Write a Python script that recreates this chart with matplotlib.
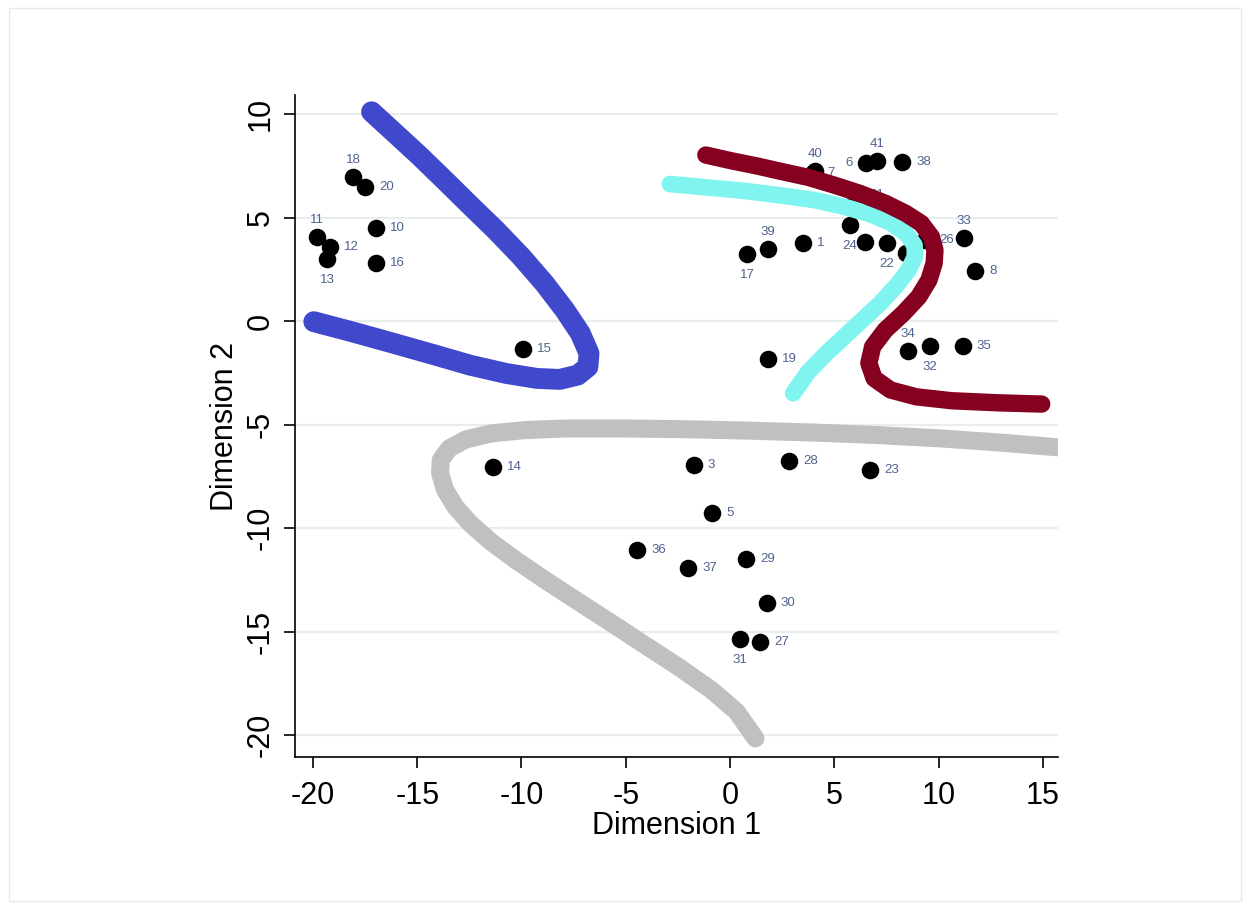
import matplotlib
matplotlib.use("Agg")
import matplotlib.pyplot as plt
from matplotlib.patches import Rectangle

plt.rcParams['font.family'] = ['Liberation Sans', 'DejaVu Sans']
plt.rcParams['axes.unicode_minus'] = False

# ---- data: MDS point coordinates ----
ids = ["18", "20", "11", "12", "13", "10", "16", "15", "14",
       "39", "17", "1", "7", "40", "6", "41", "38", "21", "24", "", "22", "",
       "26", "33", "8", "34", "32", "35", "19",
       "3", "28", "23", "5", "36", "37", "29", "30", "31", "27"]
dim1 = [-18.08, -17.50, -19.80, -19.18, -19.32, -16.97, -16.97, -9.92, -11.36,
        1.82, 0.82, 3.50, 3.98, 4.08, 6.52, 7.05, 8.25, 6.00, 5.75, 6.47, 7.53, 8.44,
        9.35, 11.22, 11.75, 8.53, 9.59, 11.17, 1.82,
        -1.73, 2.83, 6.71, -0.86, -4.46, -2.01, 0.77, 1.77, 0.48, 1.44]
dim2 = [6.96, 6.47, 4.06, 3.57, 3.00, 4.49, 2.80, -1.35, -7.05,
        3.48, 3.24, 3.77, 7.15, 7.25, 7.63, 7.73, 7.68, 6.09, 4.64, 3.82, 3.77, 3.29,
        3.91, 4.01, 2.42, -1.45, -1.21, -1.21, -1.84,
        -6.96, -6.76, -7.20, -9.28, -11.06, -11.93, -11.50, -13.62, -15.36, -15.51]

# clock position of each marker label (Stata style)
label_clock = {"18": 12, "11": 12, "13": 6, "40": 12, "41": 12, "6": 9,
               "24": 6, "22": 6, "33": 12, "39": 12, "17": 6, "34": 12,
               "32": 6, "31": 6}

# ---- curves traced on the map ----
blue_x = [-17.19, -16.15, -14.93, -13.69, -12.47, -11.24, -10.01, -8.90, -7.92, -7.18, -6.76,
          -6.81, -7.30, -8.17, -9.27, -10.74, -12.47, -14.43, -16.40, -18.12, -19.96]
blue_y = [10.11, 9.15, 8.02, 6.81, 5.60, 4.40, 3.11, 1.82, 0.53, -0.59, -1.56,
          -2.21, -2.61, -2.82, -2.77, -2.53, -2.13, -1.56, -1.00, -0.52, -0.03]

cyan_x = [-2.88, -1.16, 0.57, 2.29, 4.01, 5.48, 6.71, 7.70, 8.43, 8.85, 8.87, 8.56, 7.94,
          7.21, 6.34, 5.48, 4.62, 3.76, 3.03]
cyan_y = [6.62, 6.46, 6.30, 6.09, 5.85, 5.52, 5.17, 4.75, 4.24, 3.67, 3.11, 2.46, 1.66,
          0.86, 0.05, -0.76, -1.56, -2.45, -3.49]

maroon_x = [-1.16, 0.07, 1.30, 2.53, 3.76, 4.99, 6.22, 7.45, 8.43, 9.17, 9.66, 9.83, 9.79,
            9.54, 9.05, 8.31, 7.45, 6.84, 6.66, 6.91, 7.70, 8.93, 10.64, 12.86, 14.95]
maroon_y = [8.02, 7.74, 7.49, 7.21, 6.94, 6.57, 6.17, 5.69, 5.20, 4.72, 4.07, 3.43, 2.79,
            1.98, 1.17, 0.37, -0.43, -1.24, -2.04, -2.77, -3.33, -3.66, -3.85, -3.95, -4.01]

gray_x = [15.70, 13.10, 10.11, 7.11, 4.11, 1.12, -1.88, -4.88, -7.87, -9.87, -11.47, -12.67,
          -13.46, -13.87, -13.90, -13.66, -13.17, -12.47, -11.47, -10.27, -8.87, -7.27,
          -5.67, -4.08, -2.48, -0.88, 0.32, 1.22]
gray_y = [-6.10, -5.88, -5.67, -5.51, -5.39, -5.30, -5.23, -5.19, -5.19, -5.27, -5.43, -5.72,
          -6.15, -6.71, -7.36, -8.16, -8.97, -9.77, -10.66, -11.55, -12.51, -13.56,
          -14.60, -15.65, -16.70, -17.83, -18.87, -20.16]

xticks = [-20, -15, -10, -5, 0, 5, 10, 15]
yticks = [-20, -15, -10, -5, 0, 5, 10]

# ---- figure ----
fig = plt.figure(figsize=(12.5, 9.09), dpi=100)
fig.patch.set_facecolor("white")
fig.patches.append(Rectangle((0.007, 0.009), 0.986, 0.982, transform=fig.transFigure,
                             fill=False, edgecolor="#e9e9e9", linewidth=1.0))

ax = fig.add_axes([0.236, 0.1672, 0.6104, 0.7283])
ax.set_xlim(-20.86, 15.73)
ax.set_ylim(-21.06, 10.92)

ax.set_yticks(yticks)
ax.set_xticks(xticks)
ax.yaxis.grid(True, color="#e8eeee", linewidth=1.6)
ax.xaxis.grid(False)
ax.set_axisbelow(True)

for s in ["top", "right"]:
    ax.spines[s].set_visible(False)
for s in ["left", "bottom"]:
    ax.spines[s].set_color("black")
    ax.spines[s].set_linewidth(1.2)

ax.tick_params(axis="both", direction="out", length=8, width=1.2, labelsize=22, colors="black")
ax.tick_params(axis="x", pad=9)
ax.tick_params(axis="y", pad=6, labelrotation=90)
for lab in ax.get_yticklabels():
    lab.set_va("center")

ax.set_xlabel("Dimension 1", fontsize=22, labelpad=0)
ax.set_ylabel("Dimension 2", fontsize=22, labelpad=4)

# points
ax.scatter(dim1, dim2, s=160, color="black", zorder=3, linewidths=0)

offsets = {3: (14, 0, "left", "center"), 12: (0, 17, "center", "center"),
           6: (0, -21, "center", "center"), 9: (-13, 0, "right", "center")}
for lbl, x, y in zip(ids, dim1, dim2):
    if not lbl:
        continue
    dx, dy, ha, va = offsets[label_clock.get(lbl, 3)]
    ax.annotate(lbl, (x, y), xytext=(dx, dy), textcoords="offset pixels",
                ha=ha, va=va, fontsize=9.5, color="#4f6290", zorder=4)

# curves
kw = dict(solid_capstyle="round", solid_joinstyle="round")
ax.plot(gray_x, gray_y, color="#c0c0c0", linewidth=13, zorder=5, **kw)
ax.plot(blue_x, blue_y, color="#4048cc", linewidth=15, zorder=5, **kw)
ax.plot(cyan_x, cyan_y, color="#80f5f0", linewidth=12, zorder=5, **kw)
ax.plot(maroon_x, maroon_y, color="#860020", linewidth=12.5, zorder=6, **kw)

fig.savefig("out.png", dpi=100)
